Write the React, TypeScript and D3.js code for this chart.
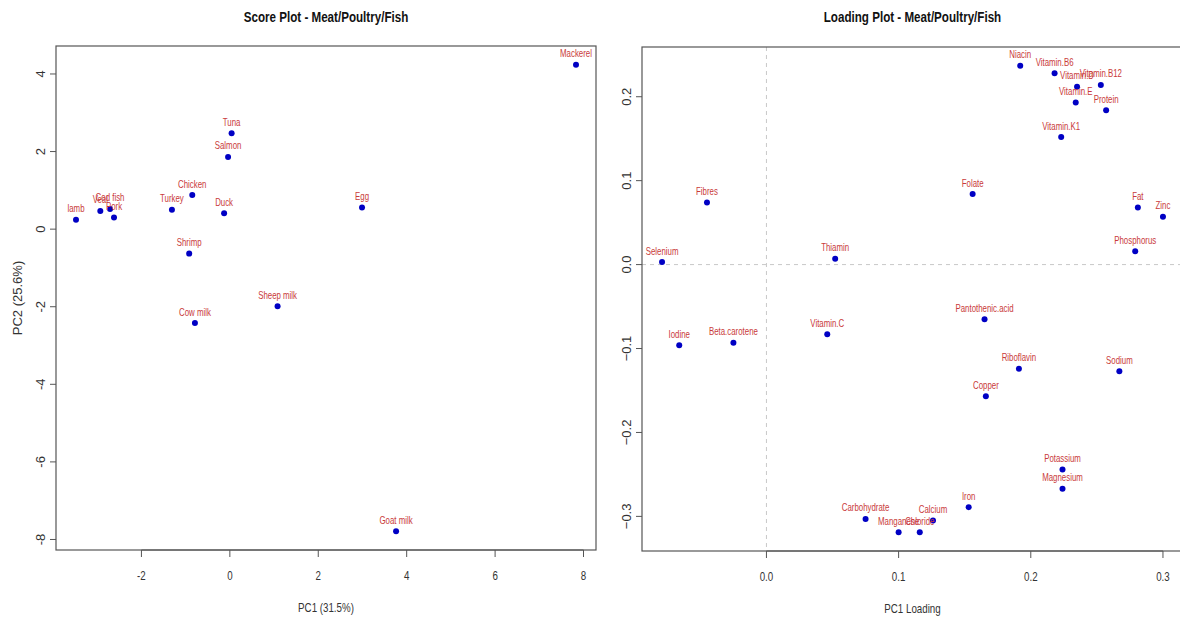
import React from 'react';
import * as d3 from 'd3';

// score plot data
const foods = ['Mackerel', 'Tuna', 'Salmon', 'Chicken', 'Turkey', 'Duck', 'Egg', 'lamb', 'Veal', 'Cod fish', 'Pork', 'Shrimp', 'Sheep milk', 'Cow milk', 'Goat milk'];
const scorePC1 = [7.83, 0.04, -0.04, -0.85, -1.31, -0.13, 2.99, -3.48, -2.93, -2.71, -2.62, -0.92, 1.08, -0.79, 3.76];
const scorePC2 = [4.24, 2.47, 1.86, 0.88, 0.5, 0.41, 0.56, 0.24, 0.47, 0.52, 0.3, -0.63, -1.99, -2.42, -7.79];
const scoreXTicks = [-2, 0, 2, 4, 6, 8];
const scoreYTicks = [-8, -6, -4, -2, 0, 2, 4];

// loading plot data
const nutrients = ['Niacin', 'Vitamin.B6', 'Vitamin.D', 'Vitamin.B12', 'Vitamin.E', 'Protein', 'Vitamin.K1', 'Folate', 'Fat', 'Zinc', 'Phosphorus', 'Fibres', 'Selenium', 'Thiamin', 'Iodine', 'Beta.carotene', 'Vitamin.C', 'Pantothenic.acid', 'Riboflavin', 'Sodium', 'Copper', 'Potassium', 'Magnesium', 'Iron', 'Carbohydrate', 'Calcium', 'Manganese', 'Chloride'];
const loadPC1 = [0.192, 0.218, 0.235, 0.253, 0.234, 0.257, 0.223, 0.156, 0.281, 0.3, 0.279, -0.045, -0.079, 0.052, -0.066, -0.025, 0.046, 0.165, 0.191, 0.267, 0.166, 0.224, 0.224, 0.153, 0.075, 0.126, 0.1, 0.116];
const loadPC2 = [0.237, 0.228, 0.212, 0.214, 0.193, 0.184, 0.152, 0.084, 0.068, 0.057, 0.016, 0.074, 0.003, 0.007, -0.096, -0.093, -0.083, -0.065, -0.124, -0.127, -0.157, -0.244, -0.267, -0.289, -0.303, -0.305, -0.319, -0.319];
const loadXTicks = [0, 0.1, 0.2, 0.3];
const loadYTicks = [-0.3, -0.2, -0.1, 0, 0.1, 0.2];

const SQ = 0.75; // the source picture is squeezed horizontally
const FONT = "'Liberation Sans', Arial, Helvetica, sans-serif";
const AXIS = '#555';

// R style: extend range by 4% on each side
function padded(v: number[]): [number, number] {
  const [a, b] = d3.extent(v) as [number, number];
  const p = (b - a) * 0.04;
  return [a - p, b + p];
}

function HText(props: {x: number; y: number; size: number; fill?: string; weight?: string; children: any}) {
  return (
    <text transform={`translate(${props.x},${props.y}) scale(${SQ},1)`} textAnchor="middle"
      fontSize={props.size} fill={props.fill || '#333'} fontWeight={props.weight || 'normal'} fontFamily={FONT}>
      {props.children}
    </text>
  );
}

function Panel(props: any) {
  const {left, right, top, bottom, xs, ys, names, xTicks, yTicks, fmt, title, xLabel, yLabel, zeroLines} = props;
  const x = d3.scaleLinear().domain(padded(xs)).range([left, right]);
  const y = d3.scaleLinear().domain(padded(ys)).range([bottom, top]);
  const cx = (left + right) / 2;
  const cy = (top + bottom) / 2;
  return (
    <g>
      <HText x={cx} y={22} size={15.5} weight="bold" fill="#111">{title}</HText>
      {zeroLines && (
        <g stroke="#c8c8c8" strokeDasharray="4,4" strokeWidth={1}>
          <line x1={x(0)} x2={x(0)} y1={top} y2={bottom} />
          <line x1={left} x2={right} y1={y(0)} y2={y(0)} />
        </g>
      )}
      <rect x={left} y={top} width={right - left} height={bottom - top} fill="none" stroke={AXIS} strokeWidth={1.2} />
      {/* x axis */}
      <line x1={x(xTicks[0])} x2={x(xTicks[xTicks.length - 1])} y1={bottom} y2={bottom} stroke={AXIS} />
      {xTicks.map((t: number) => (
        <g key={'x' + t}>
          <line x1={x(t)} x2={x(t)} y1={bottom} y2={bottom + 7} stroke={AXIS} />
          <HText x={x(t)} y={bottom + 30} size={13}>{fmt(t)}</HText>
        </g>
      ))}
      {/* y axis */}
      {yTicks.map((t: number) => (
        <g key={'y' + t}>
          <line x1={left - 6} x2={left} y1={y(t)} y2={y(t)} stroke={AXIS} />
          <text transform={`translate(${left - 11},${y(t)}) rotate(-90)`} textAnchor="middle"
            fontSize={13} fill="#333" fontFamily={FONT}>{fmt(t)}</text>
        </g>
      ))}
      <HText x={cx} y={bottom + 62} size={13}>{xLabel}</HText>
      {yLabel && (
        <text transform={`translate(${left - 34},${cy}) rotate(-90)`} textAnchor="middle"
          fontSize={13} fill="#333" fontFamily={FONT}>{yLabel}</text>
      )}
      {/* points and labels */}
      {names.map((n: string, i: number) => (
        <g key={n}>
          <circle cx={x(xs[i])} cy={y(ys[i])} r={3} fill="#0000c4" />
          <HText x={x(xs[i])} y={y(ys[i]) - 7.5} size={10.5} fill="#c93a3a">{n}</HText>
        </g>
      ))}
    </g>
  );
}

export default function App() {
  return (
    <svg width={1180} height={618} style={{position: 'absolute', left: 0, top: 0, background: '#fff'}}>
      <rect width={1180} height={618} fill="#fff" />
      <Panel left={56} right={596} top={46} bottom={550} xs={scorePC1} ys={scorePC2} names={foods}
        xTicks={scoreXTicks} yTicks={scoreYTicks} fmt={(t: number) => String(t)}
        title="Score Plot - Meat/Poultry/Fish" xLabel="PC1 (31.5%)" yLabel="PC2 (25.6%)" />
      <Panel left={642} right={1183} top={47} bottom={551} xs={loadPC1} ys={loadPC2} names={nutrients}
        xTicks={loadXTicks} yTicks={loadYTicks} fmt={(t: number) => d3.format('.1f')(t)}
        title="Loading Plot - Meat/Poultry/Fish" xLabel="PC1 Loading" zeroLines />
    </svg>
  );
}
